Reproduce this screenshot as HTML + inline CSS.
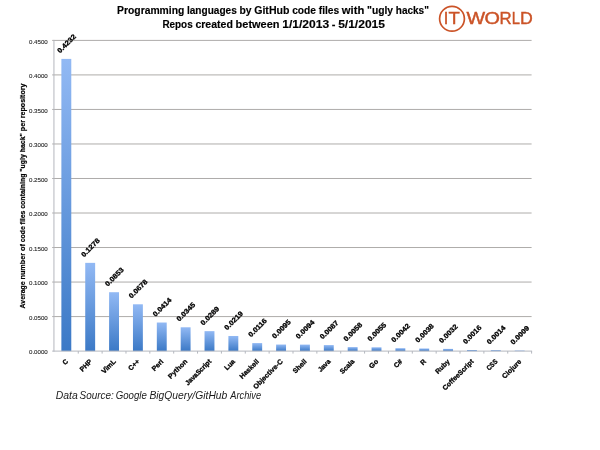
<!DOCTYPE html>
<html lang="en"><head><meta charset="utf-8"><title>Programming languages by GitHub code files with &quot;ugly hacks&quot;</title>
<style>html,body{margin:0;padding:0;background:#fff}body{width:600px;height:450px;overflow:hidden}svg{display:block}text{font-family:"Liberation Sans",sans-serif}.b{font-weight:bold}</style></head><body>
<svg width="600" height="450" viewBox="0 0 600 450">
<defs><linearGradient id="g" x1="0" y1="0" x2="0" y2="1"><stop offset="0" stop-color="#92b9f4"/><stop offset="1" stop-color="#3b79c6"/></linearGradient></defs>
<rect width="600" height="450" fill="#fff"/>
<line x1="52.20" y1="316.58" x2="531.60" y2="316.58" stroke="#aeacaa" stroke-width="1"/>
<line x1="52.20" y1="282.06" x2="531.60" y2="282.06" stroke="#aeacaa" stroke-width="1"/>
<line x1="52.20" y1="247.53" x2="531.60" y2="247.53" stroke="#aeacaa" stroke-width="1"/>
<line x1="52.20" y1="213.01" x2="531.60" y2="213.01" stroke="#aeacaa" stroke-width="1"/>
<line x1="52.20" y1="178.49" x2="531.60" y2="178.49" stroke="#aeacaa" stroke-width="1"/>
<line x1="52.20" y1="143.97" x2="531.60" y2="143.97" stroke="#aeacaa" stroke-width="1"/>
<line x1="52.20" y1="109.44" x2="531.60" y2="109.44" stroke="#aeacaa" stroke-width="1"/>
<line x1="52.20" y1="74.92" x2="531.60" y2="74.92" stroke="#aeacaa" stroke-width="1"/>
<line x1="52.20" y1="40.40" x2="531.60" y2="40.40" stroke="#aeacaa" stroke-width="1"/>
<rect x="61.38" y="58.90" width="9.9" height="292.20" fill="url(#g)"/>
<rect x="85.24" y="262.86" width="9.9" height="88.24" fill="url(#g)"/>
<rect x="109.10" y="292.21" width="9.9" height="58.89" fill="url(#g)"/>
<rect x="132.96" y="304.29" width="9.9" height="46.81" fill="url(#g)"/>
<rect x="156.82" y="322.52" width="9.9" height="28.58" fill="url(#g)"/>
<rect x="180.68" y="327.28" width="9.9" height="23.82" fill="url(#g)"/>
<rect x="204.54" y="331.15" width="9.9" height="19.95" fill="url(#g)"/>
<rect x="228.40" y="335.98" width="9.9" height="15.12" fill="url(#g)"/>
<rect x="252.26" y="343.09" width="9.9" height="8.01" fill="url(#g)"/>
<rect x="276.12" y="344.54" width="9.9" height="6.56" fill="url(#g)"/>
<rect x="299.98" y="344.61" width="9.9" height="6.49" fill="url(#g)"/>
<rect x="323.84" y="345.09" width="9.9" height="6.01" fill="url(#g)"/>
<rect x="347.70" y="347.10" width="9.9" height="4.00" fill="url(#g)"/>
<rect x="371.56" y="347.30" width="9.9" height="3.80" fill="url(#g)"/>
<rect x="395.42" y="348.20" width="9.9" height="2.90" fill="url(#g)"/>
<rect x="419.28" y="348.48" width="9.9" height="2.62" fill="url(#g)"/>
<rect x="443.14" y="348.89" width="9.9" height="2.21" fill="url(#g)"/>
<rect x="467.00" y="350.00" width="9.9" height="1.10" fill="url(#g)"/>
<rect x="490.86" y="350.13" width="9.9" height="0.97" fill="url(#g)"/>
<rect x="514.72" y="350.48" width="9.9" height="0.62" fill="url(#g)"/>
<line x1="53.95" y1="39.90" x2="53.95" y2="351.60" stroke="#b4b7be" stroke-width="1"/>
<line x1="52.20" y1="351.10" x2="532.10" y2="351.10" stroke="#b4b7be" stroke-width="1"/>
<line x1="78.26" y1="351.10" x2="78.26" y2="353.60" stroke="#b4b7be" stroke-width="1"/>
<line x1="102.12" y1="351.10" x2="102.12" y2="353.60" stroke="#b4b7be" stroke-width="1"/>
<line x1="125.98" y1="351.10" x2="125.98" y2="353.60" stroke="#b4b7be" stroke-width="1"/>
<line x1="149.84" y1="351.10" x2="149.84" y2="353.60" stroke="#b4b7be" stroke-width="1"/>
<line x1="173.70" y1="351.10" x2="173.70" y2="353.60" stroke="#b4b7be" stroke-width="1"/>
<line x1="197.56" y1="351.10" x2="197.56" y2="353.60" stroke="#b4b7be" stroke-width="1"/>
<line x1="221.42" y1="351.10" x2="221.42" y2="353.60" stroke="#b4b7be" stroke-width="1"/>
<line x1="245.28" y1="351.10" x2="245.28" y2="353.60" stroke="#b4b7be" stroke-width="1"/>
<line x1="269.14" y1="351.10" x2="269.14" y2="353.60" stroke="#b4b7be" stroke-width="1"/>
<line x1="293.00" y1="351.10" x2="293.00" y2="353.60" stroke="#b4b7be" stroke-width="1"/>
<line x1="316.86" y1="351.10" x2="316.86" y2="353.60" stroke="#b4b7be" stroke-width="1"/>
<line x1="340.72" y1="351.10" x2="340.72" y2="353.60" stroke="#b4b7be" stroke-width="1"/>
<line x1="364.58" y1="351.10" x2="364.58" y2="353.60" stroke="#b4b7be" stroke-width="1"/>
<line x1="388.44" y1="351.10" x2="388.44" y2="353.60" stroke="#b4b7be" stroke-width="1"/>
<line x1="412.30" y1="351.10" x2="412.30" y2="353.60" stroke="#b4b7be" stroke-width="1"/>
<line x1="436.16" y1="351.10" x2="436.16" y2="353.60" stroke="#b4b7be" stroke-width="1"/>
<line x1="460.02" y1="351.10" x2="460.02" y2="353.60" stroke="#b4b7be" stroke-width="1"/>
<line x1="483.88" y1="351.10" x2="483.88" y2="353.60" stroke="#b4b7be" stroke-width="1"/>
<line x1="507.74" y1="351.10" x2="507.74" y2="353.60" stroke="#b4b7be" stroke-width="1"/>
<line x1="531.60" y1="351.10" x2="531.60" y2="353.60" stroke="#b4b7be" stroke-width="1"/>
<text x="47.8" y="354.25" text-anchor="end" font-size="6.1" fill="#2a2a2a" stroke="#2a2a2a" stroke-width="0.12" textLength="18.81" lengthAdjust="spacingAndGlyphs">0.0000</text>
<text x="47.8" y="319.73" text-anchor="end" font-size="6.1" fill="#2a2a2a" stroke="#2a2a2a" stroke-width="0.12" textLength="18.81" lengthAdjust="spacingAndGlyphs">0.0500</text>
<text x="47.8" y="285.21" text-anchor="end" font-size="6.1" fill="#2a2a2a" stroke="#2a2a2a" stroke-width="0.12" textLength="18.81" lengthAdjust="spacingAndGlyphs">0.1000</text>
<text x="47.8" y="250.68" text-anchor="end" font-size="6.1" fill="#2a2a2a" stroke="#2a2a2a" stroke-width="0.12" textLength="18.81" lengthAdjust="spacingAndGlyphs">0.1500</text>
<text x="47.8" y="216.16" text-anchor="end" font-size="6.1" fill="#2a2a2a" stroke="#2a2a2a" stroke-width="0.12" textLength="18.81" lengthAdjust="spacingAndGlyphs">0.2000</text>
<text x="47.8" y="181.64" text-anchor="end" font-size="6.1" fill="#2a2a2a" stroke="#2a2a2a" stroke-width="0.12" textLength="18.81" lengthAdjust="spacingAndGlyphs">0.2500</text>
<text x="47.8" y="147.12" text-anchor="end" font-size="6.1" fill="#2a2a2a" stroke="#2a2a2a" stroke-width="0.12" textLength="18.81" lengthAdjust="spacingAndGlyphs">0.3000</text>
<text x="47.8" y="112.59" text-anchor="end" font-size="6.1" fill="#2a2a2a" stroke="#2a2a2a" stroke-width="0.12" textLength="18.81" lengthAdjust="spacingAndGlyphs">0.3500</text>
<text x="47.8" y="78.07" text-anchor="end" font-size="6.1" fill="#2a2a2a" stroke="#2a2a2a" stroke-width="0.12" textLength="18.81" lengthAdjust="spacingAndGlyphs">0.4000</text>
<text x="47.8" y="43.55" text-anchor="end" font-size="6.1" fill="#2a2a2a" stroke="#2a2a2a" stroke-width="0.12" textLength="18.81" lengthAdjust="spacingAndGlyphs">0.4500</text>
<text class="b" transform="translate(66.33 43.30) rotate(-45)" x="0" y="2.7" text-anchor="middle" font-size="6.9" fill="#000" stroke="#000" stroke-width="0.3" textLength="23.25" lengthAdjust="spacingAndGlyphs">0.4232</text>
<text class="b" transform="translate(90.19 247.26) rotate(-45)" x="0" y="2.7" text-anchor="middle" font-size="6.9" fill="#000" stroke="#000" stroke-width="0.3" textLength="23.25" lengthAdjust="spacingAndGlyphs">0.1278</text>
<text class="b" transform="translate(114.05 276.61) rotate(-45)" x="0" y="2.7" text-anchor="middle" font-size="6.9" fill="#000" stroke="#000" stroke-width="0.3" textLength="23.25" lengthAdjust="spacingAndGlyphs">0.0853</text>
<text class="b" transform="translate(137.91 288.69) rotate(-45)" x="0" y="2.7" text-anchor="middle" font-size="6.9" fill="#000" stroke="#000" stroke-width="0.3" textLength="23.25" lengthAdjust="spacingAndGlyphs">0.0678</text>
<text class="b" transform="translate(161.77 306.92) rotate(-45)" x="0" y="2.7" text-anchor="middle" font-size="6.9" fill="#000" stroke="#000" stroke-width="0.3" textLength="23.25" lengthAdjust="spacingAndGlyphs">0.0414</text>
<text class="b" transform="translate(185.63 311.68) rotate(-45)" x="0" y="2.7" text-anchor="middle" font-size="6.9" fill="#000" stroke="#000" stroke-width="0.3" textLength="23.25" lengthAdjust="spacingAndGlyphs">0.0345</text>
<text class="b" transform="translate(209.49 315.55) rotate(-45)" x="0" y="2.7" text-anchor="middle" font-size="6.9" fill="#000" stroke="#000" stroke-width="0.3" textLength="23.25" lengthAdjust="spacingAndGlyphs">0.0289</text>
<text class="b" transform="translate(233.35 320.38) rotate(-45)" x="0" y="2.7" text-anchor="middle" font-size="6.9" fill="#000" stroke="#000" stroke-width="0.3" textLength="23.25" lengthAdjust="spacingAndGlyphs">0.0219</text>
<text class="b" transform="translate(257.21 327.49) rotate(-45)" x="0" y="2.7" text-anchor="middle" font-size="6.9" fill="#000" stroke="#000" stroke-width="0.3" textLength="23.25" lengthAdjust="spacingAndGlyphs">0.0116</text>
<text class="b" transform="translate(281.07 328.94) rotate(-45)" x="0" y="2.7" text-anchor="middle" font-size="6.9" fill="#000" stroke="#000" stroke-width="0.3" textLength="23.25" lengthAdjust="spacingAndGlyphs">0.0095</text>
<text class="b" transform="translate(304.93 329.01) rotate(-45)" x="0" y="2.7" text-anchor="middle" font-size="6.9" fill="#000" stroke="#000" stroke-width="0.3" textLength="23.25" lengthAdjust="spacingAndGlyphs">0.0094</text>
<text class="b" transform="translate(328.79 329.49) rotate(-45)" x="0" y="2.7" text-anchor="middle" font-size="6.9" fill="#000" stroke="#000" stroke-width="0.3" textLength="23.25" lengthAdjust="spacingAndGlyphs">0.0087</text>
<text class="b" transform="translate(352.65 331.50) rotate(-45)" x="0" y="2.7" text-anchor="middle" font-size="6.9" fill="#000" stroke="#000" stroke-width="0.3" textLength="23.25" lengthAdjust="spacingAndGlyphs">0.0058</text>
<text class="b" transform="translate(376.51 331.70) rotate(-45)" x="0" y="2.7" text-anchor="middle" font-size="6.9" fill="#000" stroke="#000" stroke-width="0.3" textLength="23.25" lengthAdjust="spacingAndGlyphs">0.0055</text>
<text class="b" transform="translate(400.37 332.60) rotate(-45)" x="0" y="2.7" text-anchor="middle" font-size="6.9" fill="#000" stroke="#000" stroke-width="0.3" textLength="23.25" lengthAdjust="spacingAndGlyphs">0.0042</text>
<text class="b" transform="translate(424.23 332.88) rotate(-45)" x="0" y="2.7" text-anchor="middle" font-size="6.9" fill="#000" stroke="#000" stroke-width="0.3" textLength="23.25" lengthAdjust="spacingAndGlyphs">0.0038</text>
<text class="b" transform="translate(448.09 333.29) rotate(-45)" x="0" y="2.7" text-anchor="middle" font-size="6.9" fill="#000" stroke="#000" stroke-width="0.3" textLength="23.25" lengthAdjust="spacingAndGlyphs">0.0032</text>
<text class="b" transform="translate(471.95 334.40) rotate(-45)" x="0" y="2.7" text-anchor="middle" font-size="6.9" fill="#000" stroke="#000" stroke-width="0.3" textLength="23.25" lengthAdjust="spacingAndGlyphs">0.0016</text>
<text class="b" transform="translate(495.81 334.53) rotate(-45)" x="0" y="2.7" text-anchor="middle" font-size="6.9" fill="#000" stroke="#000" stroke-width="0.3" textLength="23.25" lengthAdjust="spacingAndGlyphs">0.0014</text>
<text class="b" transform="translate(519.67 334.88) rotate(-45)" x="0" y="2.7" text-anchor="middle" font-size="6.9" fill="#000" stroke="#000" stroke-width="0.3" textLength="23.25" lengthAdjust="spacingAndGlyphs">0.0009</text>
<text class="b" transform="translate(68.53 362.0) rotate(-45)" x="0" y="0" text-anchor="end" font-size="6.9" fill="#000" stroke="#000" stroke-width="0.3" textLength="4.73" lengthAdjust="spacingAndGlyphs">C</text>
<text class="b" transform="translate(92.39 362.0) rotate(-45)" x="0" y="0" text-anchor="end" font-size="6.9" fill="#000" stroke="#000" stroke-width="0.3" textLength="14.06" lengthAdjust="spacingAndGlyphs">PHP</text>
<text class="b" transform="translate(116.25 362.0) rotate(-45)" x="0" y="0" text-anchor="end" font-size="6.9" fill="#000" stroke="#000" stroke-width="0.3" textLength="17.09" lengthAdjust="spacingAndGlyphs">VimL</text>
<text class="b" transform="translate(140.11 362.0) rotate(-45)" x="0" y="0" text-anchor="end" font-size="6.9" fill="#000" stroke="#000" stroke-width="0.3" textLength="12.80" lengthAdjust="spacingAndGlyphs">C++</text>
<text class="b" transform="translate(163.97 362.0) rotate(-45)" x="0" y="0" text-anchor="end" font-size="6.9" fill="#000" stroke="#000" stroke-width="0.3" textLength="13.46" lengthAdjust="spacingAndGlyphs">Perl</text>
<text class="b" transform="translate(187.83 362.0) rotate(-45)" x="0" y="0" text-anchor="end" font-size="6.9" fill="#000" stroke="#000" stroke-width="0.3" textLength="24.30" lengthAdjust="spacingAndGlyphs">Python</text>
<text class="b" transform="translate(211.69 362.0) rotate(-45)" x="0" y="0" text-anchor="end" font-size="6.9" fill="#000" stroke="#000" stroke-width="0.3" textLength="33.57" lengthAdjust="spacingAndGlyphs">JavaScript</text>
<text class="b" transform="translate(235.55 362.0) rotate(-45)" x="0" y="0" text-anchor="end" font-size="6.9" fill="#000" stroke="#000" stroke-width="0.3" textLength="12.13" lengthAdjust="spacingAndGlyphs">Lua</text>
<text class="b" transform="translate(259.41 362.0) rotate(-45)" x="0" y="0" text-anchor="end" font-size="6.9" fill="#000" stroke="#000" stroke-width="0.3" textLength="24.27" lengthAdjust="spacingAndGlyphs">Haskell</text>
<text class="b" transform="translate(283.27 362.0) rotate(-45)" x="0" y="0" text-anchor="end" font-size="6.9" fill="#000" stroke="#000" stroke-width="0.3" textLength="38.73" lengthAdjust="spacingAndGlyphs">Objective-C</text>
<text class="b" transform="translate(307.13 362.0) rotate(-45)" x="0" y="0" text-anchor="end" font-size="6.9" fill="#000" stroke="#000" stroke-width="0.3" textLength="16.53" lengthAdjust="spacingAndGlyphs">Shell</text>
<text class="b" transform="translate(330.99 362.0) rotate(-45)" x="0" y="0" text-anchor="end" font-size="6.9" fill="#000" stroke="#000" stroke-width="0.3" textLength="14.60" lengthAdjust="spacingAndGlyphs">Java</text>
<text class="b" transform="translate(354.85 362.0) rotate(-45)" x="0" y="0" text-anchor="end" font-size="6.9" fill="#000" stroke="#000" stroke-width="0.3" textLength="17.45" lengthAdjust="spacingAndGlyphs">Scala</text>
<text class="b" transform="translate(378.71 362.0) rotate(-45)" x="0" y="0" text-anchor="end" font-size="6.9" fill="#000" stroke="#000" stroke-width="0.3" textLength="9.90" lengthAdjust="spacingAndGlyphs">Go</text>
<text class="b" transform="translate(402.57 362.0) rotate(-45)" x="0" y="0" text-anchor="end" font-size="6.9" fill="#000" stroke="#000" stroke-width="0.3" textLength="8.72" lengthAdjust="spacingAndGlyphs">C#</text>
<text class="b" transform="translate(426.43 362.0) rotate(-45)" x="0" y="0" text-anchor="end" font-size="6.9" fill="#000" stroke="#000" stroke-width="0.3" textLength="5.00" lengthAdjust="spacingAndGlyphs">R</text>
<text class="b" transform="translate(450.29 362.0) rotate(-45)" x="0" y="0" text-anchor="end" font-size="6.9" fill="#000" stroke="#000" stroke-width="0.3" textLength="17.34" lengthAdjust="spacingAndGlyphs">Ruby</text>
<text class="b" transform="translate(474.15 362.0) rotate(-45)" x="0" y="0" text-anchor="end" font-size="6.9" fill="#000" stroke="#000" stroke-width="0.3" textLength="40.73" lengthAdjust="spacingAndGlyphs">CoffeeScript</text>
<text class="b" transform="translate(498.01 362.0) rotate(-45)" x="0" y="0" text-anchor="end" font-size="6.9" fill="#000" stroke="#000" stroke-width="0.3" textLength="12.30" lengthAdjust="spacingAndGlyphs">CSS</text>
<text class="b" transform="translate(521.87 362.0) rotate(-45)" x="0" y="0" text-anchor="end" font-size="6.9" fill="#000" stroke="#000" stroke-width="0.3" textLength="24.12" lengthAdjust="spacingAndGlyphs">Clojure</text>
<text class="b" y="14.1" font-size="10.7" fill="#000" stroke="#000" stroke-width="0.15"><tspan x="117.10" textLength="67.17" lengthAdjust="spacingAndGlyphs">Programming</tspan> <tspan x="186.99" textLength="49.75" lengthAdjust="spacingAndGlyphs">languages</tspan> <tspan x="239.45" textLength="12.06" lengthAdjust="spacingAndGlyphs">by</tspan> <tspan x="254.22" textLength="35.20" lengthAdjust="spacingAndGlyphs">GitHub</tspan> <tspan x="292.14" textLength="23.89" lengthAdjust="spacingAndGlyphs">code</tspan> <tspan x="318.75" textLength="20.43" lengthAdjust="spacingAndGlyphs">files</tspan> <tspan x="341.88" textLength="22.49" lengthAdjust="spacingAndGlyphs">with</tspan> <tspan x="367.09" textLength="26.02" lengthAdjust="spacingAndGlyphs">&quot;ugly</tspan> <tspan x="395.82" textLength="33.09" lengthAdjust="spacingAndGlyphs">hacks&quot;</tspan></text>
<text class="b" y="27.6" font-size="10.7" fill="#000" stroke="#000" stroke-width="0.15"><tspan x="162.40" textLength="30.30" lengthAdjust="spacingAndGlyphs">Repos</tspan> <tspan x="195.41" textLength="37.50" lengthAdjust="spacingAndGlyphs">created</tspan> <tspan x="235.62" textLength="43.93" lengthAdjust="spacingAndGlyphs">between</tspan> <tspan x="282.27" textLength="46.81" lengthAdjust="spacingAndGlyphs">1/1/2013</tspan> <tspan x="331.78" textLength="3.67" lengthAdjust="spacingAndGlyphs">-</tspan> <tspan x="338.17" textLength="46.81" lengthAdjust="spacingAndGlyphs">5/1/2015</tspan></text>
<text class="b" transform="translate(24.9 308.4) rotate(-90)" y="0" font-size="7.3" fill="#000" stroke="#000" stroke-width="0.2"><tspan x="0.00" textLength="27.08" lengthAdjust="spacingAndGlyphs">Average</tspan> <tspan x="28.91" textLength="26.59" lengthAdjust="spacingAndGlyphs">number</tspan> <tspan x="57.33" textLength="6.92" lengthAdjust="spacingAndGlyphs">of</tspan> <tspan x="66.07" textLength="16.13" lengthAdjust="spacingAndGlyphs">code</tspan> <tspan x="84.03" textLength="13.79" lengthAdjust="spacingAndGlyphs">files</tspan> <tspan x="99.65" textLength="35.22" lengthAdjust="spacingAndGlyphs">containing</tspan> <tspan x="136.70" textLength="17.56" lengthAdjust="spacingAndGlyphs">&quot;ugly</tspan> <tspan x="156.10" textLength="19.17" lengthAdjust="spacingAndGlyphs">hack&quot;</tspan> <tspan x="177.10" textLength="11.30" lengthAdjust="spacingAndGlyphs">per</tspan> <tspan x="190.24" textLength="34.62" lengthAdjust="spacingAndGlyphs">repository</tspan></text>
<text y="399.1" font-size="11" font-style="italic" fill="#1a1a1a"><tspan x="55.70" textLength="22.00" lengthAdjust="spacingAndGlyphs">Data</tspan> <tspan x="79.60" textLength="34.30" lengthAdjust="spacingAndGlyphs">Source:</tspan> <tspan x="115.70" textLength="31.20" lengthAdjust="spacingAndGlyphs">Google</tspan> <tspan x="149.45" textLength="77.85" lengthAdjust="spacingAndGlyphs">BigQuery/GitHub</tspan> <tspan x="230.30" textLength="30.80" lengthAdjust="spacingAndGlyphs">Archive</tspan></text>
<circle cx="452" cy="18.75" r="12.4" fill="none" stroke="#cb5327" stroke-width="1.7"/>
<text y="24.25" font-size="16.4" fill="#cb5327" stroke="#cb5327" stroke-width="0.4"><tspan x="443.7" textLength="4.56" lengthAdjust="spacingAndGlyphs">I</tspan><tspan x="448.6" textLength="11.3" lengthAdjust="spacingAndGlyphs">T</tspan></text>
<text y="24.25" font-size="16.4" fill="#cb5327" stroke="#cb5327" stroke-width="0.4"><tspan x="466.4" textLength="18.64" lengthAdjust="spacingAndGlyphs">W</tspan><tspan x="484.56" textLength="15.39" lengthAdjust="spacingAndGlyphs">O</tspan><tspan x="499.6" textLength="12.16" lengthAdjust="spacingAndGlyphs">R</tspan><tspan x="511.8" textLength="8.2" lengthAdjust="spacingAndGlyphs">L</tspan><tspan x="520.05" textLength="12.8" lengthAdjust="spacingAndGlyphs">D</tspan></text>
</svg></body></html>
